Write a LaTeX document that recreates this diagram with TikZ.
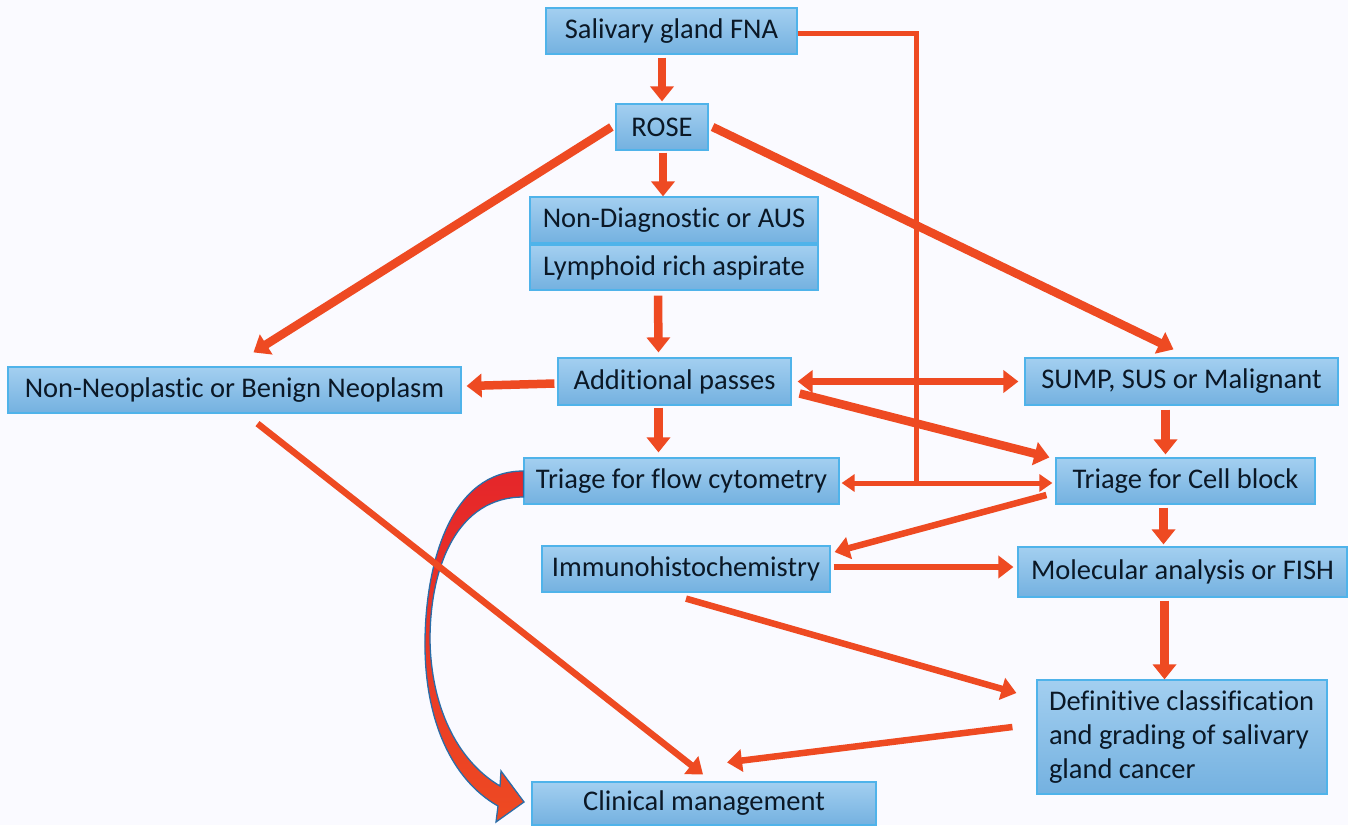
\documentclass[tikz,border=0pt]{standalone}
\usepackage{fontspec}
\setmainfont{Carlito}[Ligatures={NoCommon}]
\usetikzlibrary{arrows.meta,calc}
\definecolor{arrred}{HTML}{EE4A22}
\definecolor{boxtop}{HTML}{A3CFF0}
\definecolor{boxbot}{HTML}{74B1E0}
\definecolor{boxline}{HTML}{4FB3EA}
\definecolor{txt}{HTML}{0B1826}
\definecolor{curvetop}{HTML}{E5262A}
\definecolor{curvebot}{HTML}{EE4A22}
\definecolor{curveline}{HTML}{2A6DA8}
\tikzset{
  box/.style={draw=boxline, line width=1.2pt, top color=boxtop, bottom color=boxbot,
    text=txt, font=\fontsize{28.5}{34}\selectfont, inner sep=0pt, align=center},
  arr/.style={draw=arrred, line width=8.5pt, -{Triangle[length=15pt,width=23pt]}},
  thinarr/.style={draw=arrred, line width=6.5pt, -{Triangle[length=15pt,width=22pt]}},
  link/.style={draw=arrred, line width=5pt},
  dlink/.style={draw=arrred, line width=5pt, {Triangle[length=13pt,width=17pt]}-{Triangle[length=13pt,width=17pt]}},
}
\begin{document}
\begin{tikzpicture}[x=1pt,y=-1pt]
\fill[white!98!blue] (0,0) rectangle (1348,825);
\useasboundingbox (0,0) rectangle (1348,825);

% boxes
\node[box, minimum width=251pt, minimum height=46pt] (fna) at (671.5,31) {Salivary gland FNA};
\node[box, minimum width=92pt, minimum height=46pt] (rose) at (662,127) {ROSE};
\node[box, minimum width=288pt, minimum height=46pt] (nondiag) at (674,220) {Non-Diagnostic or AUS};
\node[box, minimum width=288pt, minimum height=45pt] (lymph) at (674,267.5) {Lymphoid rich aspirate};
\node[box, minimum width=233pt, minimum height=47pt] (add) at (674.5,381.5) {Additional passes};
\node[box, minimum width=313pt, minimum height=47pt] (sump) at (1181.5,381.5) {SUMP, SUS or Malignant};
\node[box, minimum width=453pt, minimum height=46pt] (nonneo) at (234.5,390) {Non-Neoplastic or Benign Neoplasm};
\node[box, minimum width=315pt, minimum height=46pt] (flow) at (681.5,481) {Triage for flow cytometry};
\node[box, minimum width=259pt, minimum height=46pt] (cell) at (1185.5,481) {Triage for Cell block};
\node[box, minimum width=288pt, minimum height=46pt] (immuno) at (686,569) {Immunohistochemistry};
\node[box, minimum width=329pt, minimum height=50pt] (molec) at (1182.5,572) {Molecular analysis or FISH};
\node[box, minimum width=290pt, minimum height=114pt, align=flush left, text width=266pt] (defin) at (1182,737)
  {Definitive classification\\and grading of salivary\\gland cancer};
\node[box, minimum width=344pt, minimum height=43pt] (clin) at (704,803.5) {Clinical management};

% curved block arrow from flow cytometry to clinical management
\path[top color=curvetop, bottom color=curvebot, draw=curveline, line width=1.3pt]
  (flow.west |- 0,471) .. controls (452,471) and (426,560) .. (425,640)
  .. controls (424,720) and (452,780) .. (498,806)
  -- (496,822) -- (524,802) -- (501,771) -- (500,786)
  .. controls (456,760) and (431,705) .. (430,640)
  .. controls (430,565) and (458,497) .. (flow.west |- 0,497) -- cycle;

% connectors
\draw[arr] ($(fna.south -| rose.north)+(0,3)$) -- ($(rose.north)+(0,-2)$);
\draw[arr] ($(rose.south)+(1,2)$) -- ($(nondiag.north -| rose.south)+(1,0)$);
\draw[arr] ($(rose.west)+(-4,0)$) -- ($(nonneo.north)+(19,-14)$);
\draw[arr] ($(rose.east)+(4,0)$) -- ($(sump.north)+(-8,-8)$);
\draw[arr] ($(lymph.south)+(-16,5)$) -- ($(add.north)+(-16,-5)$);
\draw[arr] ($(add.west)+(-3,2)$) -- ($(nonneo.east)+(5,-4)$);
\draw[thinarr, {Triangle[length=15pt,width=22pt]}-{Triangle[length=15pt,width=22pt]}]
  ($(add.east)+(6,0)$) -- ($(sump.west)+(-6,0)$);
\draw[arr] ($(add.east)+(8,12)$) -- ($(cell.north west)+(-6,0)$);
\draw[arr] ($(add.south)+(-16,2)$) -- ($(flow.north -| add.south)+(-16,-5)$);
\draw[arr] ($(sump.south)+(-16,4)$) -- ($(cell.north -| sump.south)+(-16,-3)$);
\draw[link] (fna.east |- 0,33) -| (916,481);
\draw[dlink] ($(flow.east)+(2,2)$) -- ($(cell.west)+(-3,2)$);
\draw[thinarr] ($(cell.west)+(-9,14)$) -- ($(immuno.east)+(4,-17)$);
\draw[thinarr] ($(immuno.east)+(3,-2)$) -- ($(molec.west)+(-4,-5)$);
\draw[arr] ($(cell.south -| molec.north)+(-19,3)$) -- ($(molec.north)+(-19,-2)$);
\draw[arr] ($(molec.south)+(-18,3)$) -- ($(defin.north -| molec.south)+(-18,0)$);
\draw[thinarr] ($(immuno.south)+(0,6)$) -- ($(defin.west)+(-20,-44)$);
\draw[thinarr] ($(defin.west)+(-24,-10)$) -- ($(clin.north)+(23,-19)$);
\draw[thinarr] ($(nonneo.south)+(23,10)$) -- ($(clin.north)+(-1,-7)$);
\end{tikzpicture}
\end{document}
